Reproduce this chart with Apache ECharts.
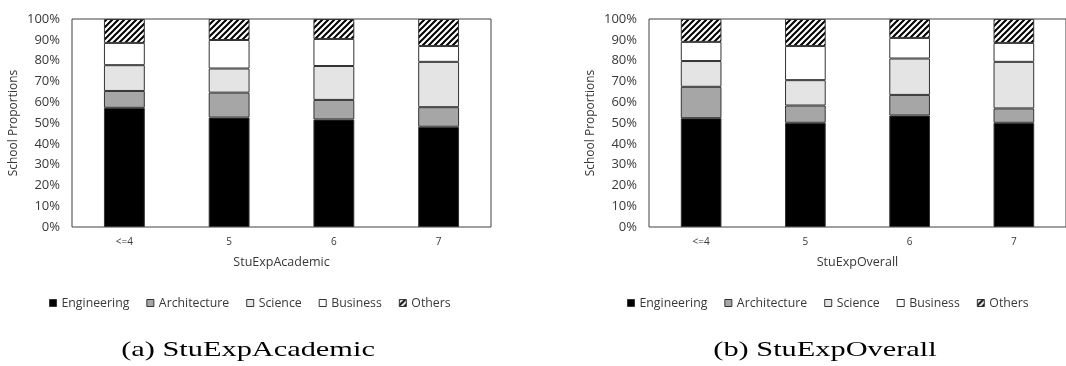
<!DOCTYPE html>
<html>
<head>
<meta charset="utf-8">
<script src="https://cdn.jsdelivr.net/npm/echarts@6/dist/echarts.min.js"></script>
<style>
  html, body { margin: 0; padding: 0; background: #fff; }
  #chart { width: 1066px; height: 366px; }
</style>
</head>
<body>
<div id="chart"></div>
<script>
// Category labels (student experience rating)
const categories = ['<=4', '5', '6', '7'];
const schools = ['Engineering', 'Architecture', 'Science', 'Business', 'Others'];

// School proportions (%) by StuExpAcademic
const academicEngineering  = [57.3, 52.6, 51.7, 48.2];
const academicArchitecture = [8.1, 12.0, 9.4, 9.4];
const academicScience      = [12.4, 11.6, 16.3, 21.8];
const academicBusiness     = [10.7, 13.7, 13.0, 7.6];
const academicOthers       = [11.5, 10.1, 9.6, 13.0];

// School proportions (%) by StuExpOverall
const overallEngineering  = [52.3, 50.1, 53.6, 50.1];
const overallArchitecture = [15.1, 8.3, 9.9, 6.9];
const overallScience      = [12.4, 12.2, 17.5, 22.4];
const overallBusiness     = [9.2, 16.4, 9.9, 9.1];
const overallOthers       = [11.0, 13.0, 9.1, 11.5];

// Diagonal hatch tile for the "Others" segment
function hatch() {
  const s = 6;
  const c = document.createElement('canvas');
  c.width = s; c.height = s;
  const g = c.getContext('2d');
  g.fillStyle = '#fff';
  g.fillRect(0, 0, s, s);
  g.strokeStyle = '#000';
  g.lineWidth = 2;
  g.beginPath();
  g.moveTo(-1, s + 1); g.lineTo(s + 1, -1);
  g.moveTo(-1, 1); g.lineTo(1, -1);
  g.moveTo(s - 1, s + 1); g.lineTo(s + 1, s - 1);
  g.stroke();
  return { image: c, repeat: 'repeat' };
}

const fills = ['#000000', '#a6a6a6', '#e4e4e4', '#ffffff', hatch()];
const textColor = '#383838';
const font = 'Open Sans';

const panels = [
  { name: 'StuExpAcademic', caption: '(a) StuExpAcademic', left: 72, legendLeft: 44, captionX: 248,
    data: [academicEngineering, academicArchitecture, academicScience, academicBusiness, academicOthers] },
  { name: 'StuExpOverall', caption: '(b) StuExpOverall', left: 649, legendLeft: 622, captionX: 825,
    data: [overallEngineering, overallArchitecture, overallScience, overallBusiness, overallOthers] }
];

const grids = [], xAxes = [], yAxes = [], series = [], legends = [], captions = [];
panels.forEach((p, i) => {
  grids.push({ left: p.left, top: 19, width: 419, height: 208, show: true,
    borderColor: '#404040', borderWidth: 1, containLabel: false });
  xAxes.push({
    type: 'category', gridIndex: i, data: categories,
    axisLine: { show: false }, axisTick: { show: false },
    axisLabel: { color: textColor, fontFamily: font, fontSize: 10, margin: 10 },
    name: p.name, nameLocation: 'middle', nameGap: 29,
    nameTextStyle: { color: textColor, fontFamily: font, fontSize: 12.5 }
  });
  yAxes.push({
    type: 'value', gridIndex: i, min: 0, max: 100, interval: 10,
    splitLine: { show: false }, axisLine: { show: false }, axisTick: { show: false },
    axisLabel: { color: textColor, fontFamily: font, fontSize: 13, margin: 12, formatter: '{value}%' },
    name: 'School Proportions', nameLocation: 'middle', nameGap: 52, nameRotate: 90,
    nameTextStyle: { color: textColor, fontFamily: font, fontSize: 12 }
  });
  schools.forEach((s, k) => {
    series.push({
      name: s, type: 'bar', stack: 'panel' + i, xAxisIndex: i, yAxisIndex: i,
      data: p.data[k], barWidth: '39%',
      itemStyle: { color: fills[k], borderColor: '#333', borderWidth: 1 },
      emphasis: { disabled: true }
    });
  });
  legends.push({
    data: schools, left: p.legendLeft, top: 292, itemWidth: 7, itemHeight: 7, itemGap: 17,
    icon: 'rect', selectedMode: false,
    itemStyle: { borderColor: '#333', borderWidth: 1 },
    textStyle: { color: textColor, fontFamily: font, fontSize: 12.3 }
  });
  // Sub-figure caption under each panel, set in a wide serif face
  captions.push({
    type: 'text', x: p.captionX, y: 350, scaleX: 1.38, silent: true,
    style: { text: p.caption, fill: '#000', font: '22px "Liberation Serif"',
      textAlign: 'center', textVerticalAlign: 'middle' }
  });
});

const chart = echarts.init(document.getElementById('chart'), null, { renderer: 'canvas' });
chart.setOption({
  backgroundColor: '#fff',
  animation: false,
  grid: grids,
  xAxis: xAxes,
  yAxis: yAxes,
  legend: legends,
  series: series,
  graphic: captions
});
</script>
</body>
</html>
